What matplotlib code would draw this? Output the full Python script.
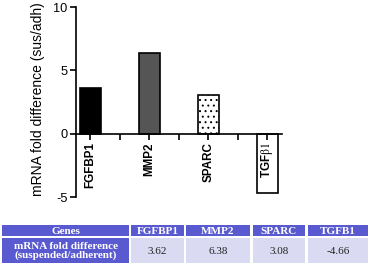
import numpy as np
import matplotlib
matplotlib.use('Agg')
import matplotlib.pyplot as plt
from matplotlib.patches import Rectangle

plt.rcParams['font.family'] = ['Liberation Sans', 'DejaVu Sans']
plt.rcParams['mathtext.fontset'] = 'stix'
plt.rcParams['hatch.linewidth'] = 0.7

genes = ['FGFBP1', 'MMP2', 'SPARC', 'TGFB1']
tick_labels = ['FGFBP1', 'MMP2', 'SPARC', r'TGF$\mathrm{\beta 1}$']
fold = [3.62, 6.38, 3.08, -4.66]
bar_colors = ['black', '#555555', 'white', 'white']
bar_hatch = [None, None, '...', None]

fig = plt.figure(figsize=(3.70, 2.65), dpi=100)

# bar chart
ax = fig.add_axes([76/370, 1 - 197/265, (282 - 76)/370, (197 - 7)/265])
# spine position first: it resets the ticks
ax.spines['top'].set_visible(False)
ax.spines['right'].set_visible(False)
ax.spines['bottom'].set_position(('data', 0))
ax.spines['left'].set_linewidth(1.2)
ax.spines['bottom'].set_linewidth(1.2)
ax.set_axisbelow(False)

x = np.arange(len(genes))
for i in range(len(genes)):
    ax.bar(x[i], fold[i], width=0.36, color=bar_colors[i], edgecolor='black',
           linewidth=1.2, hatch=bar_hatch[i], zorder=2)

ax.set_xlim(-0.24, 3.25)
ax.set_ylim(-5, 10)
ax.set_yticks([-5, 0, 5, 10])
ax.set_yticklabels(['-5', '0', '5', '10'], fontsize=9.2)
ax.set_xticks(x)
ax.set_xticks(x[:-1] + 0.5, minor=True)
ax.tick_params(axis='x', which='both', direction='out', length=4, width=1.2, pad=2)
ax.tick_params(axis='y', direction='out', length=4, width=1.2, pad=2)
ax.set_xticklabels(tick_labels, rotation=90, fontsize=8.4, fontweight='bold',
                   va='top', ha='center')
ax.set_ylabel('mRNA fold difference (sus/adh)', fontsize=10)
ax.yaxis.set_label_coords(-0.15, 0.515)

# table underneath
tab = fig.add_axes([0, 0, 1, 1], zorder=-1)
tab.set_xlim(0, 370)
tab.set_ylim(265, 0)
tab.axis('off')

dark = '#5959d0'
light = '#dadaf2'
col_edges = [(2, 129), (131, 184), (186, 250), (253, 305), (308, 368)]
row_edges = [(225, 236), (238, 263)]
header = ['Genes'] + genes
values = ['mRNA fold difference\n(suspended/adherent)'] + ['%.2f' % v for v in fold]

for j, (x0, x1) in enumerate(col_edges):
    y0, y1 = row_edges[0]
    tab.add_patch(Rectangle((x0, y0), x1 - x0, y1 - y0, color=dark, lw=0))
    tab.text((x0 + x1) / 2, (y0 + y1) / 2 + 0.5, header[j], color='white', fontsize=8,
             fontweight='bold', family='Liberation Serif', ha='center', va='center')
    y0, y1 = row_edges[1]
    tab.add_patch(Rectangle((x0, y0), x1 - x0, y1 - y0, color=dark if j == 0 else light, lw=0))
    tab.text((x0 + x1) / 2, (y0 + y1) / 2 + 0.5, values[j],
             color='white' if j == 0 else '#222222', fontsize=8,
             fontweight='bold' if j == 0 else 'normal', family='Liberation Serif',
             ha='center', va='center', linespacing=1.0)

fig.savefig('out.png', dpi=100)
